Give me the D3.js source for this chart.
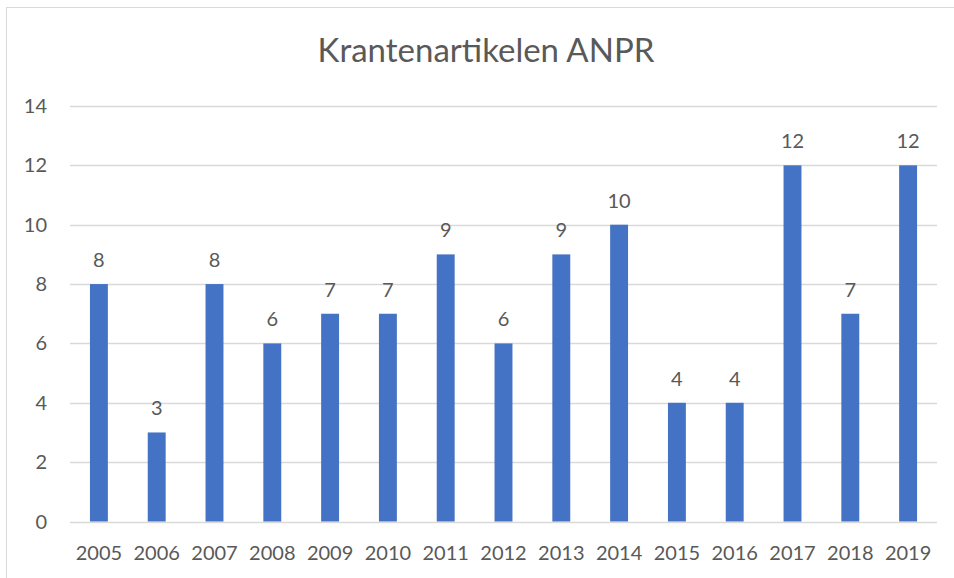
<!DOCTYPE html>
<html>
<head>
<meta charset="utf-8">
<script src="https://cdn.jsdelivr.net/npm/d3@7"></script>
<style>
  body { margin: 0; background: #fff; }
  svg { display: block; }
  text { font-family: Lato, "Open Sans", sans-serif; fill: #595959; }
</style>
</head>
<body>
<div id="chart"></div>
<script>
const years = ['2005', '2006', '2007', '2008', '2009', '2010', '2011', '2012', '2013', '2014', '2015', '2016', '2017', '2018', '2019']
const articles = [8, 3, 8, 6, 7, 7, 9, 6, 9, 10, 4, 4, 12, 7, 12]
const yTicks = [0, 2, 4, 6, 8, 10, 12, 14]
const title = 'Krantenartikelen ANPR'

const width = 954
const height = 578

const svg = d3.select('#chart')
  .append('svg')
  .attr('width', width)
  .attr('height', height)

// chart frame
svg.append('rect')
  .attr('x', 6.5)
  .attr('y', 7.5)
  .attr('width', 960)
  .attr('height', 600)
  .attr('fill', 'none')
  .attr('stroke', '#d9d9d9')

const x = d3.scaleBand()
  .domain(years)
  .range([70, 937])
  .paddingInner(0.69)
  .paddingOuter(0.345)

const y = d3.scaleLinear()
  .domain([0, 14])
  .range([521.5, 106])

svg.append('text')
  .attr('x', 486)
  .attr('y', 62)
  .attr('text-anchor', 'middle')
  .attr('font-size', 33)
  .text(title)

// gridlines
svg.append('g')
  .selectAll('line')
  .data(yTicks)
  .enter()
  .append('line')
  .attr('x1', 70)
  .attr('x2', 937)
  .attr('y1', d => Math.round(y(d)) + 0.5)
  .attr('y2', d => Math.round(y(d)) + 0.5)
  .attr('stroke', '#d9d9d9')
  .attr('stroke-width', 1.3)

svg.append('g')
  .selectAll('text')
  .data(yTicks)
  .enter()
  .append('text')
  .attr('x', 47)
  .attr('y', d => y(d) + 7)
  .attr('text-anchor', 'end')
  .attr('font-size', 20)
  .text(d => d)

svg.append('g')
  .selectAll('rect')
  .data(articles)
  .enter()
  .append('rect')
  .attr('x', (d, i) => x(years[i]))
  .attr('y', d => y(d))
  .attr('width', x.bandwidth())
  .attr('height', d => y(0) - y(d))
  .attr('fill', '#4472c4')

svg.append('g')
  .selectAll('text')
  .data(articles)
  .enter()
  .append('text')
  .attr('x', (d, i) => x(years[i]) + x.bandwidth() / 2)
  .attr('y', d => y(d) - 17)
  .attr('text-anchor', 'middle')
  .attr('font-size', 20)
  .text(d => d)

svg.append('g')
  .selectAll('text')
  .data(years)
  .enter()
  .append('text')
  .attr('x', d => x(d) + x.bandwidth() / 2)
  .attr('y', 560)
  .attr('text-anchor', 'middle')
  .attr('font-size', 20)
  .text(d => d)
</script>
</body>
</html>
